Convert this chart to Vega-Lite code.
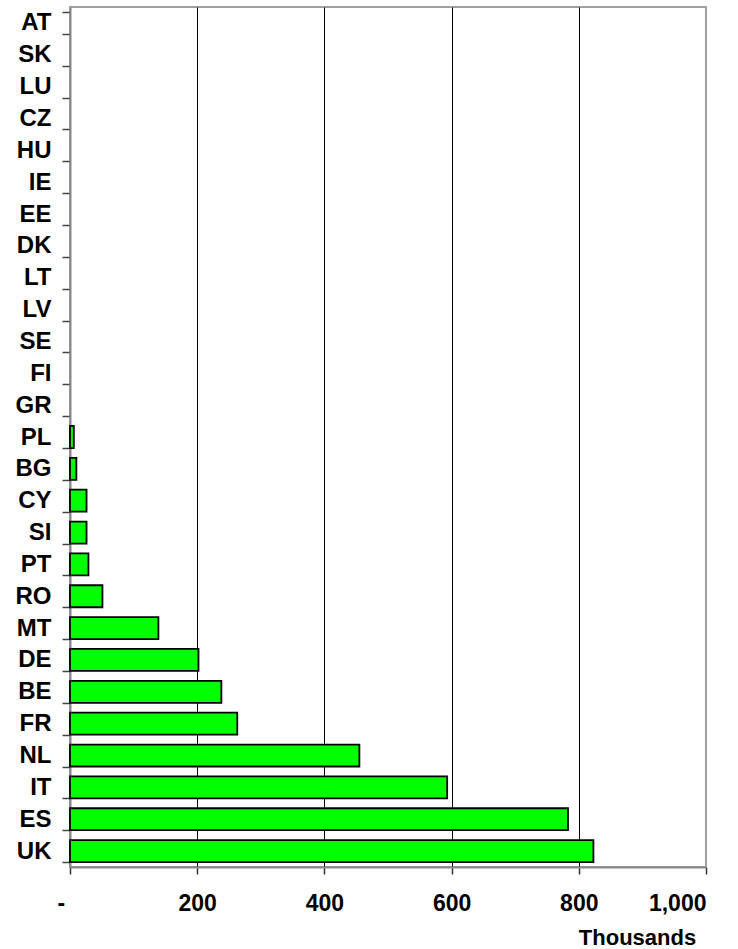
{
  "$schema": "https://vega.github.io/schema/vega-lite/v6.json",
  "width": 636,
  "height": 860,
  "autosize": {"type": "none"},
  "padding": {"left": 70, "top": 7, "right": 32, "bottom": 82},
  "background": "white",
  "view": {"stroke": "#a0a0a0", "strokeWidth": 2},
  "config": {
    "font": "Liberation Sans",
    "axis": {"labelFont": "Liberation Sans", "titleFont": "Liberation Sans"}
  },
  "data": {
    "values": [
      {"country": "AT", "value": 0},
      {"country": "SK", "value": 0},
      {"country": "LU", "value": 0},
      {"country": "CZ", "value": 0},
      {"country": "HU", "value": 0},
      {"country": "IE", "value": 0},
      {"country": "EE", "value": 0},
      {"country": "DK", "value": 0},
      {"country": "LT", "value": 0},
      {"country": "LV", "value": 0},
      {"country": "SE", "value": 0},
      {"country": "FI", "value": 0},
      {"country": "GR", "value": 0},
      {"country": "PL", "value": 6},
      {"country": "BG", "value": 10},
      {"country": "CY", "value": 26},
      {"country": "SI", "value": 26},
      {"country": "PT", "value": 29},
      {"country": "RO", "value": 51},
      {"country": "MT", "value": 139},
      {"country": "DE", "value": 202},
      {"country": "BE", "value": 238},
      {"country": "FR", "value": 263},
      {"country": "NL", "value": 455},
      {"country": "IT", "value": 593},
      {"country": "ES", "value": 783},
      {"country": "UK", "value": 823}
    ]
  },
  "mark": {"type": "bar", "fill": "#00ff00", "stroke": "black"},
  "encoding": {
    "y": {
      "field": "country",
      "type": "nominal",
      "sort": null,
      "scale": {"paddingInner": 0.31, "paddingOuter": 0.155},
      "axis": {
        "title": null,
        "tickBand": "extent",
        "tickSize": 8,
        "tickColor": "#444444",
        "tickWidth": 1.5,
        "domainColor": "#888888",
        "domainWidth": 2,
        "labelFontSize": 24,
        "labelFontWeight": "bold",
        "labelColor": "black",
        "labelPadding": 11
      }
    },
    "x": {
      "field": "value",
      "type": "quantitative",
      "scale": {"domain": [0, 1000], "nice": false},
      "axis": {
        "values": [0, 200, 400, 600, 800, 1000],
        "labelExpr": "datum.value === 0 ? '-' : format(datum.value, ',')",
        "labelOffset": {"condition": {"test": "datum.value === 0", "value": -13}, "value": 0},
        "grid": true,
        "gridColor": "black",
        "gridWidth": 1,
        "gridOpacity": {"condition": {"test": "datum.value === 0 || datum.value === 1000", "value": 0}, "value": 1},
        "tickSize": 7,
        "tickColor": "#333333",
        "tickWidth": 1.5,
        "domainColor": "#888888",
        "domainWidth": 2,
        "labelFontSize": 23,
        "labelFontWeight": "bold",
        "labelColor": "black",
        "labelPadding": 18,
        "title": "Thousands",
        "titleFontSize": 22,
        "titleFontWeight": "bold",
        "titleColor": "black",
        "titleAnchor": "start",
        "titleAlign": "center",
        "titleX": 567,
        "titleY": 70,
        "titleBaseline": "middle"
      }
    },
    "strokeWidth": {
      "condition": {"test": "datum.value > 0", "value": 1.8},
      "value": 0
    }
  }
}
